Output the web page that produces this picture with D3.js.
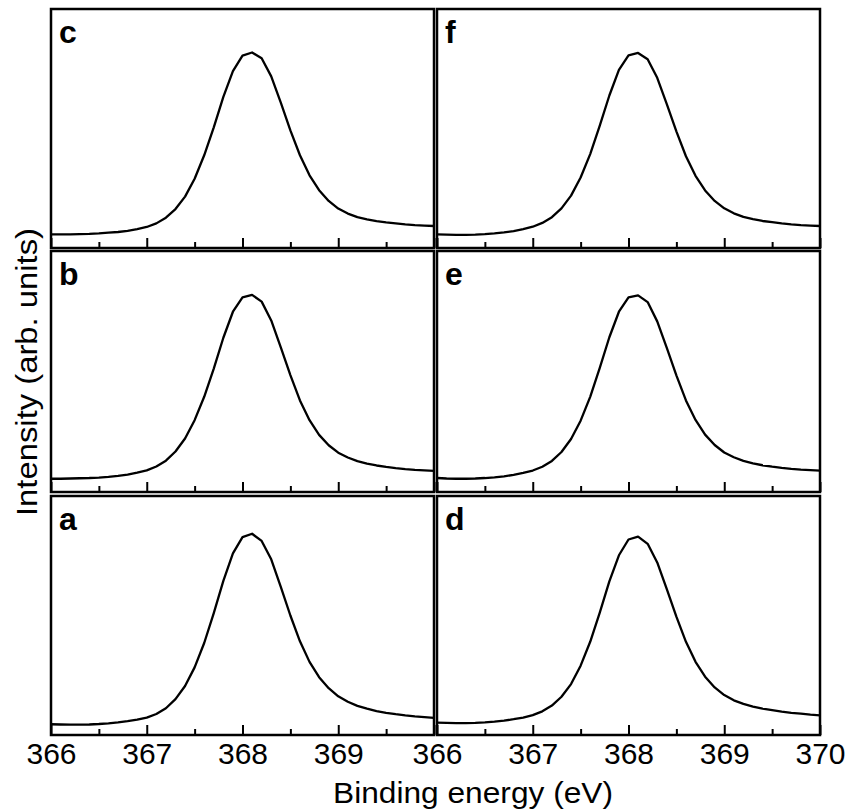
<!DOCTYPE html>
<html>
<head>
<meta charset="utf-8">
<script src="https://cdn.jsdelivr.net/npm/d3@7"></script>
<style>
  body { margin: 0; background: #fff; }
  svg text { font-family: "Liberation Sans", Arial, sans-serif; }
</style>
</head>
<body>
<div id="chart"></div>
<script>
// binding energy grid (eV), shared by all panels
const energy = d3.range(41).map(i => +(366 + i * 0.1).toFixed(1));

// intensity (arb. units)
const panelA = [.045,.044,.043,.043,.044,.046,.049,.053,.058,.064,.073,.088,.112,.150,.205,.283,.385,.510,.645,.760,.828,.842,.812,.735,.620,.500,.392,.306,.242,.196,.162,.139,.122,.110,.100,.093,.087,.082,.078,.075,.072];
const panelB = [.055,.055,.056,.057,.058,.060,.063,.067,.072,.080,.090,.106,.130,.168,.222,.298,.395,.512,.640,.748,.808,.818,.790,.712,.600,.485,.380,.298,.237,.194,.163,.143,.128,.118,.110,.104,.099,.095,.092,.090,.088];
const panelC = [.057,.057,.057,.058,.059,.061,.064,.067,.072,.079,.088,.103,.127,.163,.215,.290,.388,.505,.632,.740,.805,.818,.794,.718,.608,.492,.388,.304,.242,.197,.165,.144,.129,.120,.112,.107,.103,.099,.096,.094,.092];
const panelD = [.052,.051,.050,.050,.051,.053,.056,.060,.066,.073,.083,.099,.123,.160,.213,.290,.390,.512,.643,.752,.818,.830,.800,.722,.610,.495,.390,.306,.244,.199,.167,.145,.130,.119,.110,.104,.098,.093,.089,.085,.082];
const panelE = [.058,.056,.055,.055,.056,.058,.061,.065,.071,.079,.089,.105,.129,.166,.220,.296,.395,.515,.642,.748,.808,.816,.788,.708,.598,.484,.380,.299,.238,.195,.164,.144,.129,.119,.111,.105,.100,.096,.093,.091,.089];
const panelF = [.057,.056,.055,.055,.056,.058,.061,.065,.071,.079,.089,.105,.129,.166,.219,.295,.393,.512,.638,.745,.806,.816,.790,.712,.602,.488,.384,.302,.241,.197,.166,.145,.130,.121,.113,.108,.103,.099,.096,.094,.092];

const majorTicks = [366, 367, 368, 369, 370];
const minorTicks = [366.5, 367.5, 368.5, 369.5];
const leftLabels = [366, 367, 368, 369];
const rightLabels = [366, 367, 368, 369, 370];

const width = 859, height = 811;

// column / row boxes
const cols = [{ x0: 51, x1: 434 }, { x0: 437, x1: 820 }];
const rows = [{ y0: 9, y1: 248 }, { y0: 251, y1: 492 }, { y0: 496, y1: 735 }];

const panels = [
  { name: "c", data: panelC, col: 0, row: 0 },
  { name: "b", data: panelB, col: 0, row: 1 },
  { name: "a", data: panelA, col: 0, row: 2 },
  { name: "f", data: panelF, col: 1, row: 0 },
  { name: "e", data: panelE, col: 1, row: 1 },
  { name: "d", data: panelD, col: 1, row: 2 },
];

const svg = d3.select("#chart")
  .append("svg")
  .attr("width", width)
  .attr("height", height);

panels.forEach(function (p) {
  const c = cols[p.col], r = rows[p.row];
  const x = d3.scaleLinear().domain([366, 370]).range([c.x0, c.x1]);
  const y = d3.scaleLinear().domain([0, 1]).range([r.y1, r.y0]);
  const g = svg.append("g");

  // inward ticks on the bottom edge
  g.append("g")
    .attr("transform", `translate(0,${r.y1})`)
    .call(d3.axisBottom(x).tickValues(majorTicks).tickSize(-10).tickFormat(""))
    .call(a => a.select(".domain").remove())
    .call(a => a.selectAll("line").attr("stroke-width", 2));
  g.append("g")
    .attr("transform", `translate(0,${r.y1})`)
    .call(d3.axisBottom(x).tickValues(minorTicks).tickSize(-6).tickFormat(""))
    .call(a => a.select(".domain").remove())
    .call(a => a.selectAll("line").attr("stroke-width", 2));

  g.append("path")
    .datum(p.data)
    .attr("fill", "none")
    .attr("stroke", "black")
    .attr("stroke-width", 2.3)
    .attr("stroke-linejoin", "round")
    .attr("d", d3.line().x((d, i) => x(energy[i])).y(d => y(d)));

  g.append("rect")
    .attr("x", c.x0)
    .attr("y", r.y0)
    .attr("width", c.x1 - c.x0)
    .attr("height", r.y1 - r.y0)
    .attr("fill", "none")
    .attr("stroke", "black")
    .attr("stroke-width", 2.5);

  g.append("text")
    .attr("x", c.x0 + 8)
    .attr("y", r.y0 + 34)
    .attr("font-size", 32)
    .attr("font-weight", "bold")
    .text(p.name);

  if (p.row === 2) {
    g.append("g")
      .attr("transform", `translate(0,${r.y1})`)
      .call(d3.axisBottom(x).tickValues(p.col === 0 ? leftLabels : rightLabels).tickSize(0).tickPadding(8).tickFormat(d3.format("d")))
      .call(a => a.select(".domain").remove())
      .call(a => a.selectAll("text")
        .attr("font-size", 30)
        .attr("fill", "black")
        .attr("font-family", "Liberation Sans, Arial, sans-serif"));
  }
});

svg.append("text")
  .attr("x", 473)
  .attr("y", 803)
  .attr("text-anchor", "middle")
  .attr("font-size", 30)
  .attr("textLength", 280)
  .attr("lengthAdjust", "spacingAndGlyphs")
  .text("Binding energy (eV)");

svg.append("text")
  .attr("transform", "translate(37,372) rotate(-90)")
  .attr("text-anchor", "middle")
  .attr("font-size", 30)
  .attr("textLength", 288)
  .attr("lengthAdjust", "spacingAndGlyphs")
  .text("Intensity (arb. units)");
</script>
</body>
</html>
